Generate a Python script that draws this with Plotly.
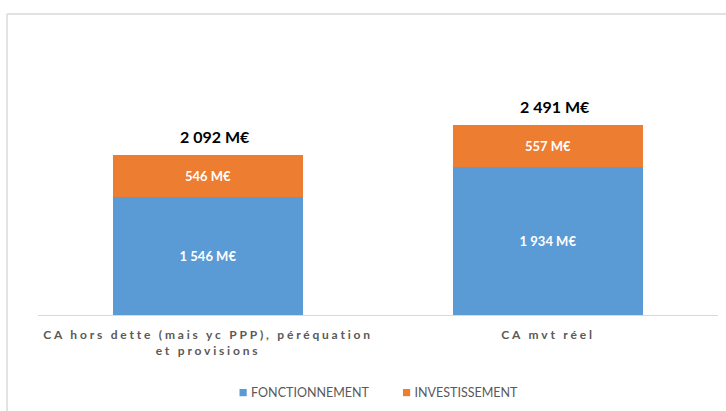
import plotly.graph_objects as go

categories = ["CA hors dette (mais yc PPP), péréquation<br>et provisions", "CA mvt réel"]
fonctionnement = [1546, 1934]
investissement = [546, 557]
totals = [f + i for f, i in zip(fonctionnement, investissement)]

BLUE = "#5B9BD5"
ORANGE = "#ED7D31"
GRAY = "#595959"

fig = go.Figure()
fig.add_trace(go.Bar(
    x=categories, y=fonctionnement, name="FONCTIONNEMENT",
    marker=dict(color=BLUE, line=dict(width=0)),
    texttemplate="%{y:,.0f} M€", textposition="inside", insidetextanchor="middle",
    textfont=dict(family="Lato", size=13, color="white", weight="bold"),
    width=0.56,
))
fig.add_trace(go.Bar(
    x=categories, y=investissement, name="INVESTISSEMENT",
    marker=dict(color=ORANGE, line=dict(width=0)),
    texttemplate="%{y:,.0f} M€", textposition="inside", insidetextanchor="middle",
    textfont=dict(family="Lato", size=13, color="white", weight="bold"),
    width=0.56,
))

for c, t in zip(categories, totals):
    fig.add_annotation(
        x=c, y=t, text=f"{t:,}".replace(",", " ") + " M€", showarrow=False,
        yanchor="bottom", yshift=7, xshift=7,
        font=dict(family="Lato", size=16, color="black", weight="bold"),
    )

# chart border (top and left edges visible)
fig.add_shape(type="line", xref="paper", yref="paper",
              x0=-0.0456, x1=1.1, y0=1.0945, y1=1.0945,
              line=dict(color="#D9D9D9", width=1.5), layer="below")
fig.add_shape(type="line", xref="paper", yref="paper",
              x0=-0.0456, x1=-0.0456, y0=-0.6, y1=1.0945,
              line=dict(color="#D9D9D9", width=1.5), layer="below")

fig.update_layout(
    barmode="stack",
    width=726, height=411,
    margin=dict(l=38, r=8, t=40, b=96),
    paper_bgcolor="white", plot_bgcolor="white",
    separators=", ",
    showlegend=True,
    legend=dict(orientation="h", x=0.484, xanchor="center",
                yref="container", y=0.0438, yanchor="middle",
                font=dict(family="Lato", size=12.5, color=GRAY), traceorder="normal"),
    xaxis=dict(showline=True, linecolor="#D9D9D9", linewidth=1, ticks="",
               ticklabelstandoff=9,
               tickfont=dict(family="Lato", size=12, color=GRAY, weight="bold"),
               showgrid=False),
    yaxis=dict(range=[0, 3600], visible=False, showgrid=False, zeroline=False),
)

post = """
document.body.style.margin='0';
document.body.style.overflow='hidden';
document.querySelectorAll('.xtick text').forEach(function(t){t.style.letterSpacing='2.8px';});
document.querySelectorAll('.legend .legendpoints path').forEach(function(p){
  p.style.transformBox='fill-box';
  p.style.transformOrigin='center';
  p.style.transform='translate(32px,0px) scale(0.6)';
});
"""
fig.write_html("out.html", post_script=post, config={"displayModeBar": False})
